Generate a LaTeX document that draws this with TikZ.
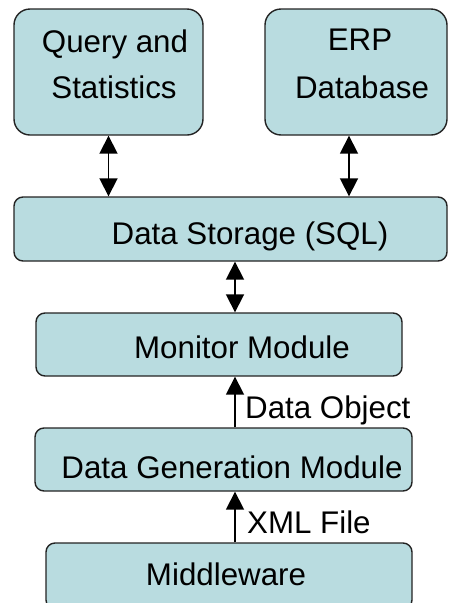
\documentclass[tikz,border=0pt]{standalone}
\usepackage{fontspec}
\setmainfont{Liberation Sans}
\usetikzlibrary{arrows.meta}
\definecolor{boxfill}{RGB}{185,220,224}
\definecolor{boxline}{RGB}{35,35,35}
\tikzset{
  box/.style={draw=boxline, fill=boxfill, line width=1.4pt, rectangle, inner sep=0pt},
  txt/.style={anchor=base, inner sep=0pt, font=\fontsize{31.3}{37}\selectfont},
  lbl/.style={anchor=base west, inner sep=0pt, font=\fontsize{31.3}{37}\selectfont},
  tip/.style={Triangle[length=18pt,width=18pt]},
  link/.style={line width=1.8pt, -{Triangle[length=18pt,width=18pt]}},
  dlink/.style={line width=1.8pt, {Triangle[length=18pt,width=18pt]}-{Triangle[length=18pt,width=18pt]}}
}
\begin{document}
\begin{tikzpicture}[x=1pt,y=-1pt]
\useasboundingbox (0,0) rectangle (448,603);

% boxes
\node[box, rounded corners=16pt, minimum width=189pt, minimum height=126pt] (qs) at (108.5,72) {};
\node[box, rounded corners=16pt, minimum width=182pt, minimum height=126pt] (erp) at (356,72) {};
\node[box, rounded corners=9pt, minimum width=433pt, minimum height=64pt] (st) at (230.5,229) {};
\node[box, rounded corners=9pt, minimum width=366pt, minimum height=63pt] (mon) at (219,344.5) {};
\node[box, rounded corners=9pt, minimum width=377pt, minimum height=63pt] (gen) at (223.5,459.5) {};
\node[box, rounded corners=9pt, minimum width=366pt, minimum height=66pt] (mid) at (229,576) {};

% box texts
\node[txt] (qs1) at (115,52) {Query and};
\node[txt] (qs2) at (114,98) {Statistics};
\node[txt] (erp1) at (360,50) {ERP};
\node[txt] (erp2) at (362,98) {Database};
\node[txt] (stt) at (250,244) {Data Storage (SQL)};
\node[txt] (mont) at (242,358) {Monitor Module};
\node[txt] (gent) at (232,478) {Data Generation Module};
\node[txt] (midt) at (226,585) {Middleware};

% connectors
\draw[dlink] (qs.south) -- (qs.south |- st.north);
\draw[dlink] ([xshift=-7pt]erp.south) -- ([xshift=-7pt]erp.south |- st.north);
\coordinate (c) at (235,0);
\draw[dlink] (c |- st.south) -- (c |- mon.north);
\draw[link] (c |- gen.north) -- (c |- mon.south);
\draw[link] (c |- mid.north) -- (c |- gen.south);

% connector labels
\node[lbl] (obj) at (245,418) {Data Object};
\node[lbl] (xml) at (247,533) {XML File};
\end{tikzpicture}
\end{document}
